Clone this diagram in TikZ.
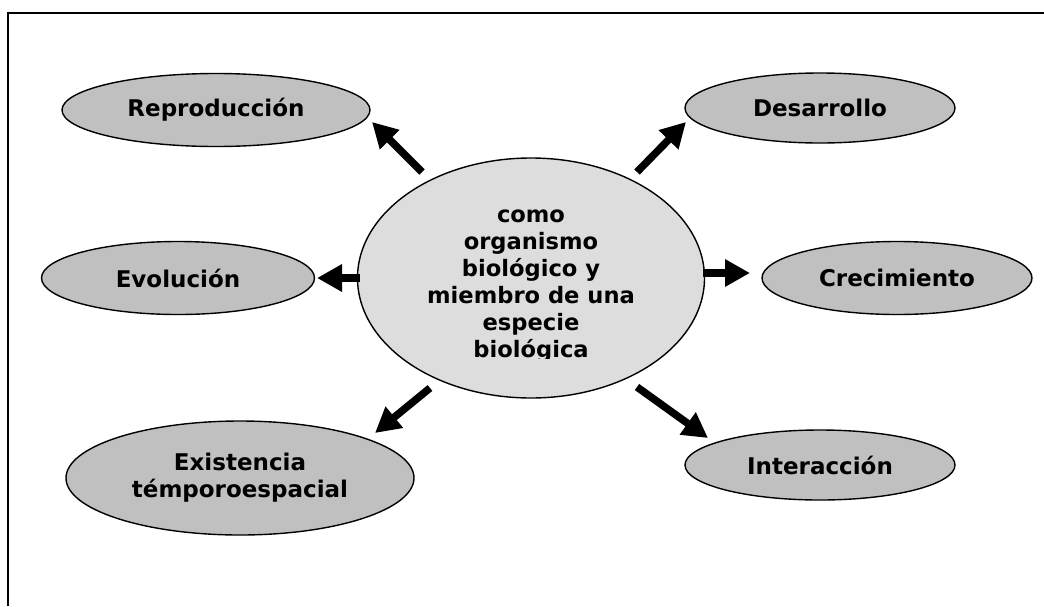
\documentclass[tikz,border=0pt]{standalone}
\usepackage{fontspec}
\setmainfont{DejaVu Sans}
\usetikzlibrary{shapes.geometric,arrows.meta}
\definecolor{outerfill}{RGB}{192,192,192}
\definecolor{innerfill}{RGB}{221,221,221}
\tikzset{
  outer/.style={ellipse, draw=black, line width=1.4pt, fill=outerfill, inner sep=0pt,
    font=\fontsize{23}{27}\selectfont\bfseries, align=center},
  inner/.style={ellipse, draw=black, line width=1.4pt, fill=innerfill, inner sep=0pt},
  arr/.style={line width=7.5pt, -{Triangle[length=25pt,width=26pt]}},
  frame/.style={line width=2.3pt}
}
\begin{document}
\begin{tikzpicture}[x=1pt,y=-1pt]
\useasboundingbox (0,0) rectangle (1044,606);
\draw[frame] (8,606) -- (8,13) -- (1044,13);
% outer nodes
\node[outer, minimum width=308, minimum height=73] (rep) at (216,110) {Reproducción};
\node[outer, minimum width=270, minimum height=70] (des) at (820,108) {Desarrollo};
\node[outer, minimum width=273, minimum height=73] (evo) at (178,278) {Evolución};
\node[outer, minimum width=270, minimum height=73] (cre) at (897,278) {Crecimiento};
\node[outer, minimum width=348, minimum height=114] (exi) at (240,478) {Existencia\\témporoespacial};
\node[outer, minimum width=270, minimum height=70] (int) at (820,465) {Interacción};
% center
\node[inner, minimum width=347, minimum height=240] (c) at (531,278) {};
\begin{scope}
\clip (360,190) rectangle (705,358);
\node[inner sep=0pt, align=center, font=\fontsize{22.6}{27}\selectfont\bfseries, anchor=center] (ct) at (531,286)
  {como\\organismo\\biológico y\\miembro de una\\especie\\biológica};
\end{scope}
% arrows
\coordinate (s1) at (422,172); \coordinate (t1) at (372,122);
\coordinate (s2) at (637,172); \coordinate (t2) at (686,122);
\coordinate (s3) at (360,278); \coordinate (t3) at (317,278);
\coordinate (s4) at (703,273); \coordinate (t4) at (750,273);
\coordinate (s5) at (430,388); \coordinate (t5) at (375,433);
\coordinate (s6) at (637,387); \coordinate (t6) at (708,438);
\draw[arr] (s1) -- (t1);
\draw[arr] (s2) -- (t2);
\draw[arr] (s3) -- (t3);
\draw[arr] (s4) -- (t4);
\draw[arr] (s5) -- (t5);
\draw[arr] (s6) -- (t6);
\end{tikzpicture}
\end{document}
